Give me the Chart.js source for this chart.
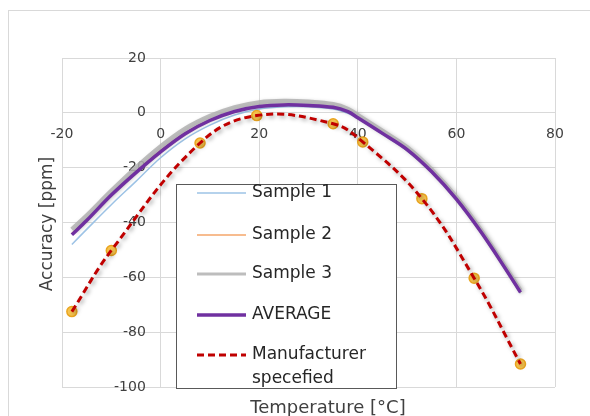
<!DOCTYPE html>
<html>
<head>
<meta charset="utf-8">
<script src="https://cdn.jsdelivr.net/npm/chart.js@4.4.0/dist/chart.umd.min.js"></script>
<style>
  html, body { margin: 0; padding: 0; background: #fff; }
</style>
</head>
<body>
<canvas id="chart" width="590" height="416"></canvas>
<script>
// measured data (temperature in degC, accuracy in ppm)
const temps    = [-18, -15, -10, -5, 0, 5, 10, 15, 20, 25, 30, 35, 38, 40, 45, 50, 55, 60, 65, 70, 73];
const sample1  = [-48, -42.5, -33.5, -25, -16.4, -9.5, -4.5, -0.8, 1.4, 2.2, 2.2, 1.4, -0.2, -2, -7.8, -13.8, -21.8, -31.8, -43.8, -57.3, -65.8];
const sample2  = [-44, -39, -30, -21.5, -13.8, -7.3, -2.6, 0.6, 2.4, 3, 2.8, 1.9, 0.4, -1.8, -7.5, -13.4, -21.5, -31.5, -43.5, -57, -65.5];
const sample3  = [-42.5, -37.5, -28.5, -20, -12.3, -5.8, -1.2, 2, 3.8, 4.3, 4, 3.1, 1.4, -0.8, -6.6, -12.6, -20.8, -30.8, -42.8, -56.4, -64.8];
const average  = [-44.5, -39.3, -30, -21.8, -14.2, -7.6, -2.8, 0.5, 2.3, 2.9, 2.7, 2, 0.4, -1.8, -7.5, -13.4, -21.5, -31.5, -43.5, -57, -65.5];
const manuTemps  = [-18, -10, 8, 19.5, 35, 41, 53, 63.6, 73];
const manuValues = [-72.5, -50.2, -11, -1, -4, -10.6, -31.3, -60.3, -91.6];

const xTicks = [-20, 0, 20, 40, 60, 80];

function pts(xs, ys) {
  return xs.map(function (x, i) { return { x: x, y: ys[i] }; });
}

const FONT = "'DejaVu Sans', sans-serif";

// white page + light outer frame like the office chart area
const framePlugin = {
  id: 'frame',
  beforeDraw: function (chart) {
    const ctx = chart.ctx;
    ctx.save();
    ctx.fillStyle = '#fff';
    ctx.fillRect(0, 0, chart.width, chart.height);
    ctx.strokeStyle = '#d9d9d9';
    ctx.lineWidth = 1;
    ctx.strokeRect(8.5, 10.5, 700, 600);
    ctx.restore();
  }
};

// soft drop shadow under the thick lines
const shadowPlugin = {
  id: 'lineShadow',
  beforeDatasetDraw: function (chart, args) {
    const ds = chart.data.datasets[args.index];
    if (!ds.shadow) return;
    const ctx = chart.ctx;
    ctx.save();
    ctx.shadowColor = 'rgba(0,0,0,0.35)';
    ctx.shadowBlur = 4;
    ctx.shadowOffsetX = 2;
    ctx.shadowOffsetY = 2;
  },
  afterDatasetDraw: function (chart, args) {
    const ds = chart.data.datasets[args.index];
    if (!ds.shadow) return;
    chart.ctx.restore();
  }
};

// boxed legend inside the plot + axis titles
const boxLegend = {
  id: 'boxLegend',
  afterDraw: function (chart) {
    const ctx = chart.ctx;
    ctx.save();

    // axis titles
    ctx.fillStyle = '#404040';
    ctx.font = '18px ' + FONT;
    ctx.textAlign = 'center';
    ctx.textBaseline = 'middle';
    ctx.fillText('Temperature [°C]', 328, 408);
    ctx.save();
    ctx.translate(48, 224);
    ctx.rotate(-Math.PI / 2);
    ctx.font = '17px ' + FONT;
    ctx.fillText('Accuracy [ppm]', 0, 0);
    ctx.restore();

    // legend box
    const bx = 176, by = 184, bw = 220, bh = 204;
    ctx.fillStyle = '#fff';
    ctx.fillRect(bx, by, bw, bh);
    ctx.strokeStyle = '#595959';
    ctx.lineWidth = 1;
    ctx.strokeRect(bx + 0.5, by + 0.5, bw, bh);

    const items = chart.data.datasets.filter(function (d) { return !d.hideInLegend; });
    const rowY = [193, 235, 274, 315, 355];
    ctx.font = '17px ' + FONT;
    ctx.textAlign = 'left';
    items.forEach(function (d, i) {
      const y = rowY[i];
      ctx.beginPath();
      ctx.strokeStyle = d.borderColor;
      ctx.lineWidth = d.legendWidth || d.borderWidth;
      ctx.setLineDash(d.borderDash || []);
      ctx.moveTo(197, y);
      ctx.lineTo(246, y);
      ctx.stroke();
      ctx.setLineDash([]);
      ctx.fillStyle = '#262626';
      const lines = d.label.split('\n');
      lines.forEach(function (t, k) {
        ctx.fillText(t, 252, y + k * 24);
      });
    });
    ctx.restore();
  }
};

new Chart(document.getElementById('chart'), {
  type: 'scatter',
  data: {
    datasets: [
      {
        label: 'Sample 1',
        data: pts(temps, sample1),
        showLine: true,
        borderColor: '#9dc3e6',
        borderWidth: 1.5,
        pointRadius: 0,
        tension: 0.35,
        order: 6
      },
      {
        label: 'Sample 2',
        data: pts(temps, sample2),
        showLine: true,
        borderColor: '#f4a66a',
        borderWidth: 1.5,
        pointRadius: 0,
        tension: 0.35,
        order: 5
      },
      {
        label: 'Sample 3',
        data: pts(temps, sample3),
        showLine: true,
        borderColor: 'rgba(178,178,178,0.85)',
        borderWidth: 4.5,
        legendWidth: 3,
        pointRadius: 0,
        tension: 0.35,
        order: 4,
        shadow: true
      },
      {
        label: 'AVERAGE',
        data: pts(temps, average),
        showLine: true,
        borderColor: '#7030a0',
        borderWidth: 3.5,
        pointRadius: 0,
        tension: 0.35,
        order: 3
      },
      {
        label: 'markers',
        hideInLegend: true,
        data: pts(manuTemps, manuValues),
        showLine: false,
        pointRadius: 5,
        pointBackgroundColor: 'rgba(245,190,60,0.9)',
        pointBorderColor: '#eaa520',
        pointBorderWidth: 1.5,
        order: 2
      },
      {
        label: 'Manufacturer\nspecefied',
        data: pts(manuTemps, manuValues),
        showLine: true,
        borderColor: '#c00000',
        borderWidth: 3,
        borderDash: [7, 4],
        pointRadius: 0,
        tension: 0.4,
        order: 1,
        shadow: true
      }
    ]
  },
  options: {
    responsive: false,
    animation: false,
    layout: { padding: { left: 62, top: 58, right: 35, bottom: 29 } },
    plugins: {
      legend: { display: false },
      tooltip: { enabled: false }
    },
    scales: {
      x: {
        type: 'linear',
        min: -20,
        max: 80,
        position: { y: 0 },
        afterBuildTicks: function (s) { s.ticks = xTicks.map(function (v) { return { value: v }; }); },
        grid: { color: '#d9d9d9', drawTicks: false },
        border: { color: '#d9d9d9' },
        ticks: { padding: 13, color: '#404040', font: { family: FONT, size: 14 } }
      },
      y: {
        type: 'linear',
        min: -100,
        max: 20,
        // labels sit ~15px left of the x=0 line (the line itself is the x grid at 0)
        position: { x: -3 },
        ticks: { stepSize: 20, color: '#404040', font: { family: FONT, size: 14 } },
        grid: { color: '#d9d9d9', drawTicks: false },
        border: { display: false }
      }
    }
  },
  plugins: [framePlugin, shadowPlugin, boxLegend]
});
</script>
</body>
</html>
